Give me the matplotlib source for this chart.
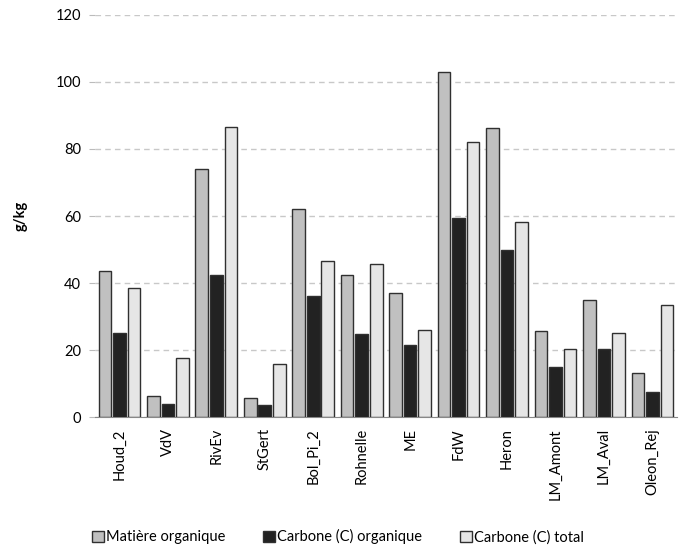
import matplotlib.pyplot as plt
import numpy as np

sites = ["Houd_2", "VdV", "RivEv", "StGert", "Bol_Pi_2", "Rohnelle", "ME",
         "FdW", "Heron", "LM_Amont", "LM_Aval", "Oleon_Rej"]
matiere_org = [43.5, 6.2, 74.0, 5.8, 62.0, 42.5, 37.0, 103.0, 86.3, 25.8, 35.0, 13.0]
carbone_org = [25.0, 4.0, 42.5, 3.5, 36.0, 24.7, 21.5, 59.5, 50.0, 15.0, 20.3, 7.5]
carbone_tot = [38.5, 17.5, 86.5, 15.7, 46.5, 45.7, 26.0, 82.0, 58.3, 20.3, 25.0, 33.5]

plt.rcParams["font.family"] = ["Lato", "DejaVu Sans"]

fig = plt.figure(figsize=(6.8, 5.49), dpi=100)
ax = fig.add_axes([0.14, 0.2404, 0.855, 0.7323])

x = np.arange(len(sites))
w = 0.26
step = 0.3
series = [
    (matiere_org, "#c0c0c0", "Matière organique"),
    (carbone_org, "#222222", "Carbone (C) organique"),
    (carbone_tot, "#e6e6e6", "Carbone (C) total"),
]
for i, (vals, col, lab) in enumerate(series):
    ax.bar(x + (i - 1) * step, vals, w, color=col, edgecolor="#303030",
           linewidth=1.0, label=lab, zorder=3)

ax.set_xlim(-0.5, len(sites) - 0.5)
ax.set_ylim(0, 120)
ax.set_yticks(range(0, 121, 20))
ax.set_xticks(x)
ax.set_xticklabels(sites, rotation=90, fontsize=10.5)
ax.tick_params(axis="y", labelsize=10.5, length=4, color="#bbbbbb", pad=6)
ax.tick_params(axis="x", length=0, pad=8)
ax.yaxis.grid(True, linestyle=(0, (4, 3)), color="#c8c8c8", linewidth=1, zorder=0)

for s in ["top", "right", "left"]:
    ax.spines[s].set_visible(False)
ax.spines["bottom"].set_color("#888888")

ax.set_ylabel("g/kg", fontsize=10.5, fontweight="bold", labelpad=20)

fig.legend(loc="center", bbox_to_anchor=(0.497, 0.022), ncol=3, frameon=False,
           fontsize=10.5, handlelength=0.8, handleheight=0.8, handletextpad=0.15,
           columnspacing=2.6)

fig.savefig("out.png", dpi=100)
